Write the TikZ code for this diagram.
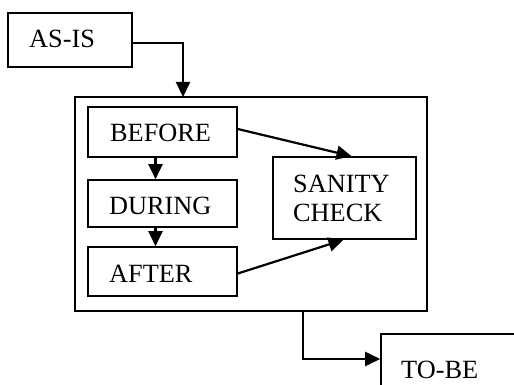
\documentclass[tikz,border=0pt]{standalone}
\usepackage{fontspec}
\setmainfont{Liberation Serif}
\usetikzlibrary{arrows.meta}
\begin{document}
\begin{tikzpicture}[x=1pt,y=-1pt,
  box/.style={draw,line width=1.6pt,rectangle,inner sep=0pt},
  lbl/.style={anchor=base west,inner sep=0pt,font=\fontsize{26.3}{29}\selectfont},
  conn/.style={line width=2.2pt,-{Triangle[length=15pt,width=14pt]}}]
\clip (0,0) rectangle (514,385);
\fill[white] (0,0) rectangle (514,385);
\node[box,minimum width=124pt,minimum height=54pt] (asis) at (70,40) {};
\node[box,minimum width=352pt,minimum height=214pt] (outer) at (251,204) {};
\node[box,minimum width=149pt,minimum height=50pt] (before) at (162.5,132) {};
\node[box,minimum width=149pt,minimum height=47pt] (during) at (162.5,203.5) {};
\node[box,minimum width=149pt,minimum height=49pt] (after) at (162.5,271.5) {};
\node[box,minimum width=143pt,minimum height=82pt] (sanity) at (344.5,198) {};
\node[box,minimum width=180pt,minimum height=64pt] (tobe) at (471,366) {};
\node[lbl] (tasis) at (29,48) {AS-IS};
\node[lbl] (tbefore) at (110,142) {BEFORE};
\node[lbl] (tduring) at (109,214) {DURING};
\node[lbl] (tafter) at (109,282) {AFTER};
\node[lbl] (tsan) at (293,192) {SANITY};
\node[lbl] (tchk) at (293,221) {CHECK};
\node[lbl] (ttobe) at (401,378) {TO-BE};
\coordinate (in) at (183,97);
\coordinate (out) at (303,311);
\draw[conn] ([yshift=-3pt]asis.east) -| (in);
\draw[conn] (out) |- ([yshift=7pt]tobe.west);
\draw[conn] ([xshift=-7pt]before.south) -- ([xshift=-7pt]during.north);
\draw[conn] ([xshift=-7pt]during.south) -- ([xshift=-7pt]after.north);
\draw[conn] ([yshift=3pt]before.east) -- ([xshift=7pt]sanity.north);
\draw[conn] ([yshift=-2pt]after.east) -- ([xshift=-1pt]sanity.south);
\end{tikzpicture}
\end{document}
